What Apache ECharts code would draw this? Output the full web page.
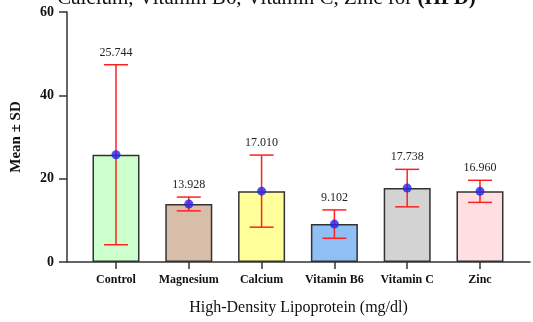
<!DOCTYPE html>
<html>
<head>
<meta charset="utf-8">
<script src="https://cdn.jsdelivr.net/npm/echarts@6/dist/echarts.min.js"></script>
<style>
  html, body { margin: 0; padding: 0; background: #fff; }
  #main { width: 533px; height: 322px; }
</style>
</head>
<body>
<div id="main"></div>
<script>
var categories = ['Control', 'Magnesium', 'Calcium', 'Vitamin B6', 'Vitamin C', 'Zinc'];
var means = [25.744, 13.928, 17.010, 9.102, 17.738, 16.960];
var sds = [21.6, 1.65, 8.65, 3.4, 4.5, 2.65];
var barColors = ['#ccffcc', '#d8bea8', '#ffff99', '#8fbff5', '#d3d3d3', '#ffdfe0'];
var yTicks = [0, 20, 40, 60];

var font = "'Liberation Serif', 'Times New Roman', serif";
var myChart = echarts.init(document.getElementById('main'));

var idx = categories.map(function (c, i) { return i; });

var option = {
    backgroundColor: '#fff',
    animation: false,
    title: {
        text: 'Calcium, Vitamin B6, Vitamin C, Zinc for {b|(HFD)}',
        left: 'center',
        top: -17,
        textStyle: {
            fontFamily: font,
            fontSize: 21,
            fontWeight: 'normal',
            color: '#111',
            rich: {
                b: { fontFamily: font, fontSize: 21, fontWeight: 'bold', color: '#111' }
            }
        }
    },
    grid: { left: 67, right: 3, top: 12, bottom: 60 },
    xAxis: {
        type: 'value',
        min: -0.673,
        max: 5.687,
        name: 'High-Density Lipoprotein (mg/dl)',
        nameLocation: 'middle',
        nameGap: 38,
        nameTextStyle: { fontFamily: font, fontSize: 16, color: '#111' },
        axisLine: { onZero: false, lineStyle: { color: '#333', width: 1.5 } },
        axisTick: { show: true, customValues: idx, length: 7, lineStyle: { color: '#333', width: 1.5 } },
        axisLabel: {
            customValues: idx,
            margin: 12,
            fontFamily: font,
            fontSize: 12,
            fontWeight: 'bold',
            color: '#111',
            formatter: function (v) { return categories[Math.round(v)]; }
        },
        splitLine: { show: false }
    },
    yAxis: {
        type: 'value',
        min: yTicks[0],
        max: yTicks[yTicks.length - 1],
        interval: 20,
        name: 'Mean ± SD',
        nameLocation: 'middle',
        nameGap: 43,
        nameTextStyle: { fontFamily: font, fontSize: 15, fontWeight: 'bold', color: '#111' },
        axisLine: { show: true, onZero: false, lineStyle: { color: '#333', width: 1.5 } },
        axisTick: { show: true, length: 8, lineStyle: { color: '#333', width: 1.5 } },
        axisLabel: { margin: 13, fontFamily: font, fontSize: 14, fontWeight: 'bold', color: '#111' },
        splitLine: { show: false }
    },
    series: [{
        type: 'bar',
        barWidth: 47,
        data: means.map(function (m, i) {
            return {
                value: [i, m],
                itemStyle: { color: barColors[i], borderColor: '#333', borderWidth: 1.5 }
            };
        })
    }, {
        type: 'custom',
        data: means.map(function (m, i) { return [i, m, sds[i]]; }),
        z: 5,
        renderItem: function (params, api) {
            var x = api.value(0), m = api.value(1), sd = api.value(2);
            var top = api.coord([x, m + sd]);
            var bot = api.coord([x, m - sd]);
            var hw = 12;
            var style = { stroke: '#ff2020', lineWidth: 1.5 };
            return {
                type: 'group',
                children: [
                    { type: 'line', shape: { x1: top[0], y1: top[1], x2: bot[0], y2: bot[1] }, style: style },
                    { type: 'line', shape: { x1: top[0] - hw, y1: top[1], x2: top[0] + hw, y2: top[1] }, style: style },
                    { type: 'line', shape: { x1: bot[0] - hw, y1: bot[1], x2: bot[0] + hw, y2: bot[1] }, style: style },
                    {
                        type: 'text',
                        x: top[0], y: top[1] - 6,
                        style: {
                            text: m.toFixed(3),
                            textAlign: 'center',
                            textVerticalAlign: 'bottom',
                            fontFamily: font,
                            fontSize: 12,
                            fill: '#222'
                        }
                    }
                ]
            };
        }
    }, {
        type: 'scatter',
        symbol: 'circle',
        symbolSize: 9,
        z: 6,
        itemStyle: { color: '#2424ee' },
        data: means.map(function (m, i) { return [i, m]; })
    }]
};
myChart.setOption(option);
</script>
</body>
</html>
